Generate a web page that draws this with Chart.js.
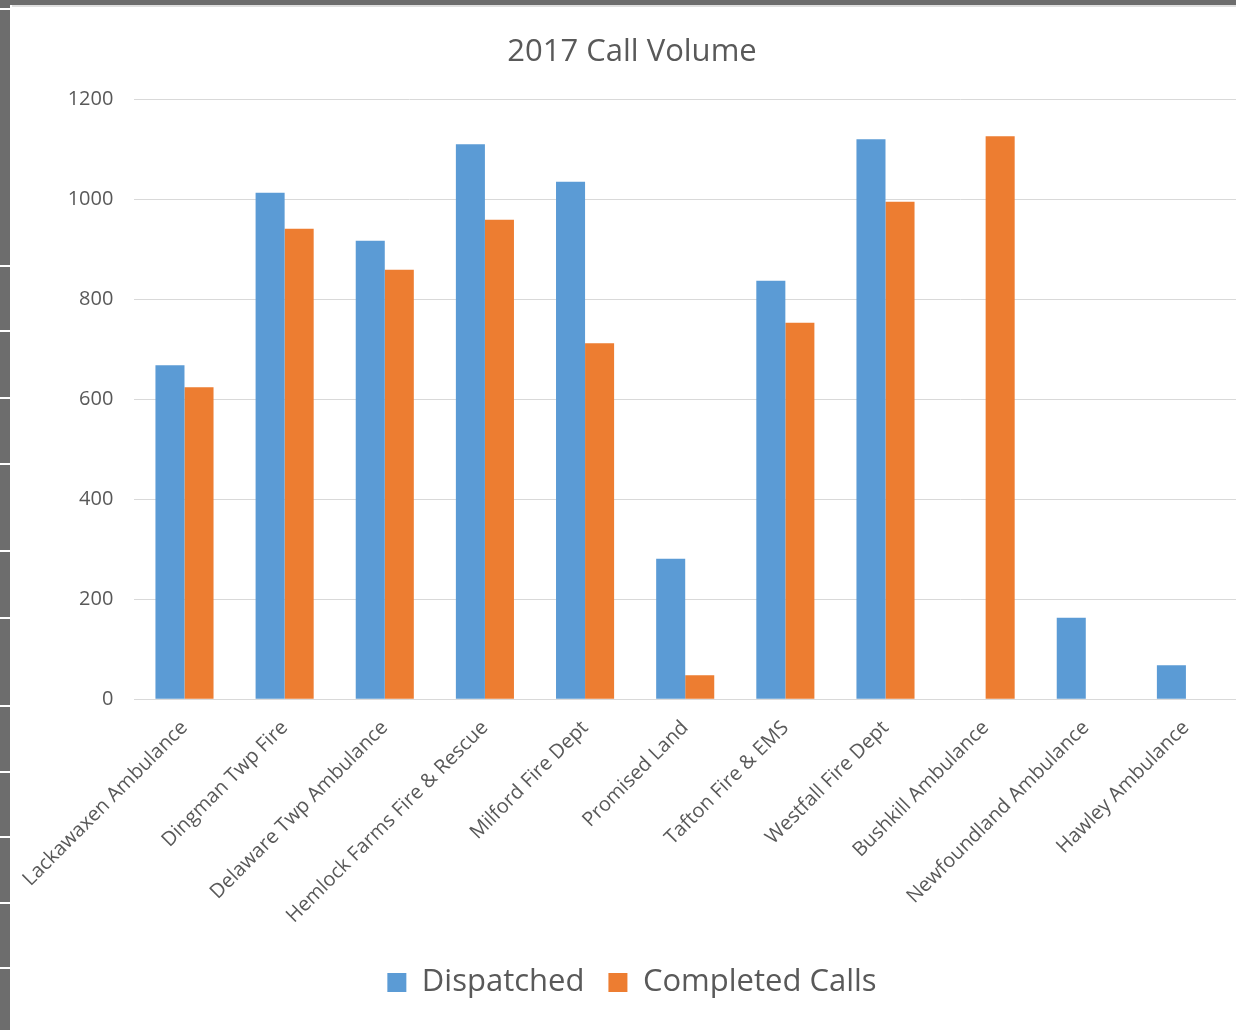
<!DOCTYPE html>
<html>
<head>
<meta charset="utf-8">
<script src="https://cdn.jsdelivr.net/npm/chart.js@4"></script>
<style>
  html,body{margin:0;padding:0;background:#fff;}
  body{width:1236px;height:1030px;position:relative;overflow:hidden;}
  #topbar{position:absolute;left:0;top:0;width:1236px;height:5px;background:#6d6d6d;}
  #topline{position:absolute;left:12px;top:5px;width:1224px;height:2px;background:#e0e0e0;}
  #leftbar{position:absolute;left:0;top:0;width:10px;height:1030px;background:#6d6d6d;}
  .gap{position:absolute;left:0;width:10px;height:2px;background:#fff;}
  #wrap{position:absolute;left:12px;top:7px;width:1224px;height:1023px;}
</style>
</head>
<body>
<div id="topbar"></div>
<div id="leftbar"></div>
<div id="topline"></div>
<div id="wrap"><canvas id="chart"></canvas></div>
<script>
const categories = ['Lackawaxen Ambulance','Dingman Twp Fire','Delaware Twp Ambulance','Hemlock Farms Fire & Rescue',
  'Milford Fire Dept','Promised Land','Tafton Fire & EMS','Westfall Fire Dept','Bushkill Ambulance',
  'Newfoundland Ambulance','Hawley Ambulance'];
const dispatched = [668, 1013, 917, 1110, 1035, 281, 837, 1120, 0, 163, 68];
const completed  = [624, 941, 859, 959, 712, 48, 753, 995, 1126, 0, 0];
const yTicks = [0, 200, 400, 600, 800, 1000, 1200];

const gapYs = [8, 265, 330, 397, 463, 550, 617, 705, 771, 836, 902, 967];
for (const y of gapYs){ const g=document.createElement('div'); g.className='gap'; g.style.top=y+'px'; document.body.appendChild(g); }

const FONT = '"Open Sans", "Noto Sans", sans-serif';
const TXT = '#595959';

new Chart(document.getElementById('chart'), {
  type:'bar',
  data:{
    labels:categories,
    datasets:[
      { label:'Dispatched', data:dispatched, backgroundColor:'#5B9BD5', borderWidth:0 },
      { label:'Completed Calls', data:completed, backgroundColor:'#ED7D31', borderWidth:0 }
    ]
  },
  options:{
    responsive:true, maintainAspectRatio:false, animation:false,
    layout:{ padding:{ left:16, right:0, top:0, bottom:22 } },
    datasets:{ bar:{ categoryPercentage:0.58, barPercentage:1 } },
    plugins:{
      title:{ display:true, text:'2017 Call Volume', color:TXT, font:{ family:FONT, size:31, weight:'normal' }, padding:{ top:27, bottom:28 } },
      legend:{ position:'bottom', labels:{ color:TXT, boxWidth:19, boxHeight:19, padding:24, font:{ family:FONT, size:31 } } },
      tooltip:{ enabled:false }
    },
    scales:{
      x:{
        grid:{ display:false },
        border:{ display:true, color:'#d9d9d9', width:1 },
        afterFit: axis => { axis.height += 6; },
        ticks:{ color:TXT, font:{ family:FONT, size:20 }, minRotation:45, maxRotation:45, padding:9, autoSkip:false }
      },
      y:{
        min:0, max:1200,
        afterBuildTicks: axis => { axis.ticks = yTicks.map(v => ({ value:v })); },
        afterFit: axis => { axis.width = 105; },
        grid:{ color:'#d9d9d9', drawTicks:false },
        border:{ display:false },
        ticks:{ color:TXT, font:{ family:FONT, size:20 }, padding:21, callback: v => String(v) }
      }
    }
  }
});
</script>
</body>
</html>
